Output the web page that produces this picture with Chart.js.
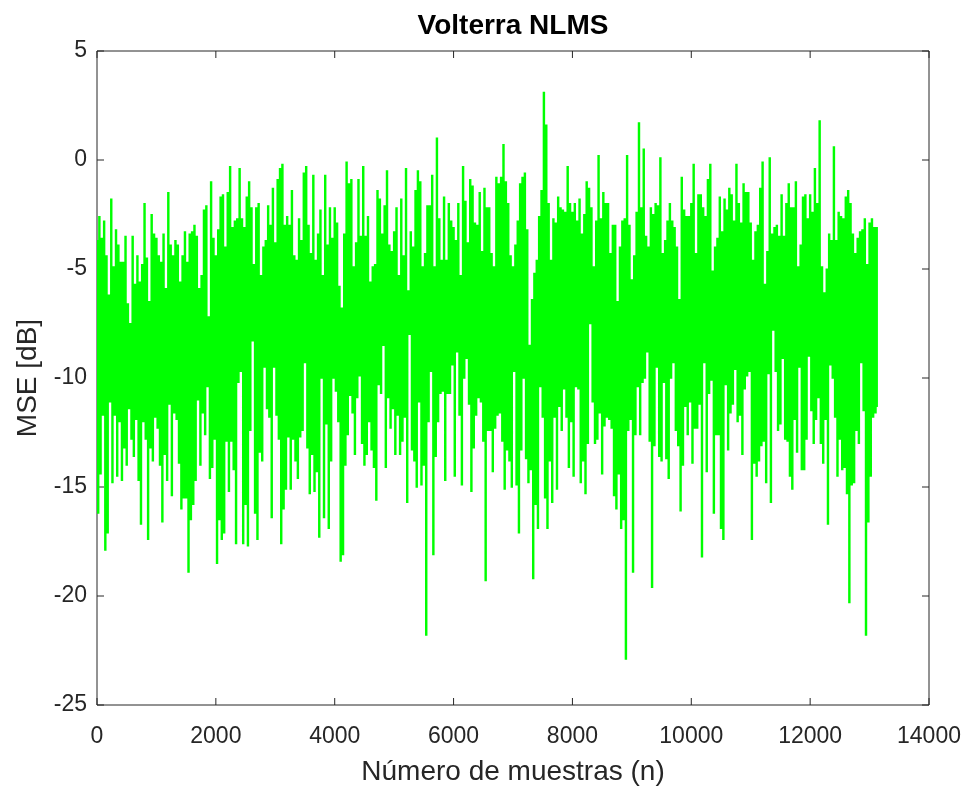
<!DOCTYPE html>
<html>
<head>
<meta charset="utf-8">
<script src="https://cdn.jsdelivr.net/npm/chart.js@4.4.1/dist/chart.umd.min.js"></script>
<style>
  html, body { margin: 0; padding: 0; background: #fff; }
  #wrap { width: 967px; height: 791px; }
</style>
</head>
<body>
<div id="wrap"><canvas id="mseChart"></canvas></div>
<script>
// samples between two consecutive readings of the curve
const step = 20;

const chartTitle = 'Volterra NLMS';
const xTicks = [0, 2000, 4000, 6000, 8000, 10000, 12000, 14000];
const yTicks = [5, 0, -5, -10, -15, -20, -25];

// upper excursions of the MSE curve (dB), read left to right
const peaksA = [-3.7, -2.6, -3.6, -2.8, -4.4, -6.2, -1.8, -4.9, -3.2, -3.9,
  -4.7, -4.7, -3.5, -6.6, -7.5, -3.5, -5.7, -4.4, -5.6, -4.8,
  -2.0, -4.5, -6.5, -2.5, -3.4, -3.6, -4.4, -4.7, -3.4, -5.9,
  -1.5, -3.9, -4.4, -3.7, -3.9, -5.6, -4.4, -3.3, -4.7, -3.4,
  -3.3, -3.0, -3.5, -5.9, -5.3, -2.3, -2.1, -7.2, -1.0, -3.6,
  -4.4, -3.2, -1.7, -1.6, -4.0, -1.5, -0.3, -3.1, -2.8, -2.7,
  -0.4, -2.7, -3.1, -1.7, -1.0, -2.2, -4.8, -2.2, -2.0, -5.3,
  -4.0, -3.7, -2.1, -3.0, -1.3, -3.8, -0.9, -0.4, -0.2, -3.0,
  -2.6];
const peaksB = [-3.0, -1.4, -4.4, -4.6, -2.7, -3.7, -0.6, -0.3, -3.0, -4.3,
  -0.7, -4.6, -3.4, -2.3, -5.3, -0.7, -3.9, -2.2, -3.6, -2.2,
  -2.9, -5.8, -6.8, -3.4, -0.1, -1.1, -0.9, -4.9, -3.8, -0.9,
  -3.5, -0.3, -3.5, -2.6, -5.6, -4.9, -4.8, -1.4, -1.8, -3.4,
  -2.1, -0.5, -3.9, -4.2, -3.3, -2.2, -5.3, -1.8, -4.4, -0.4,
  -6.0, -3.3, -4.0, -1.4, -0.5, -1.0, -4.9, -4.3, -2.1, -2.1,
  -0.7, -4.9, 1.0, -2.7, -4.6, -1.7, -4.6, -2.0, -2.8, -3.1,
  -3.7, -2.0, -5.3, -0.3, -1.9, -3.8, -0.9, -1.2, -2.9, -3.0,
  -1.5, -4.2, -1.3, -2.2];
const peaksC = [-2.2, -4.3, -4.9, -0.8, -1.1, -0.8, 0.7, -1.0, -2.0, -4.4,
  -4.9, -3.9, -2.8, -1.1, -0.8, -0.6, -3.2, -8.5, -6.4, -5.2,
  -4.6, -2.6, -1.4, 3.1, 1.6, -2.0, -4.6, -2.7, -2.9, -1.7,
  -2.2, -2.3, -2.4, -0.3, -2.0, -2.4, -2.0, -2.8, -1.8, -3.4,
  -2.5, -1.0, -1.3, -2.2, -4.9, -2.8, 0.2, -2.7, -1.5, -2.0,
  -2.0, -4.3, -3.0, -3.0, -6.5, -4.0, -2.8, -2.7, 0.2, -3.0,
  -5.5, -4.4, -2.4, 1.7, -2.2, 0.5, -3.5, -4.0, -2.2, -2.5,
  -2.0, -2.1, 0.1, -4.3, -3.7, -2.8, -2.0, -2.8, -3.1, -4.0,
  -6.4, -0.8, -2.3, -2.6];
const peaksD = [-2.6, -2.0, -0.2, -4.3, -1.6, -1.6, -2.2, -2.6, -0.9, -0.2,
  -5.1, -4.0, -3.6, -1.7, -3.3, -1.8, -2.3, -1.3, -1.6, -2.8,
  -0.2, -2.0, -2.9, -1.1, -1.5, -1.5, -2.9, -4.6, -3.3, -3.0,
  -1.3, -0.1, -5.7, -4.2, 0.1, -3.4, -3.1, -3.0, -3.5, -1.6,
  -3.5, -2.0, -1.1, -2.2, -2.2, -1.0, -4.9, -3.9, -1.7, -1.6,
  -2.7, -1.6, -2.4, -0.4, -2.0, 1.8, -4.9, -6.1, -5.0, -3.4,
  -3.7, 0.6, -3.7, -2.4, -2.6, -2.7, -1.7, -1.4, -2.0, -3.4,
  -4.3, -3.6, -3.3, -3.2, -2.7, -4.8, -2.9, -2.7, -3.1, -3.1];

// lower excursions of the MSE curve (dB), same columns
const dipsA = [-16.2, -14.4, -11.7, -17.9, -17.1, -11.1, -14.8, -11.7, -14.5, -12.0,
  -14.7, -13.2, -14.0, -11.4, -12.8, -13.6, -11.9, -14.7, -16.7, -12.0,
  -12.8, -17.4, -13.2, -13.8, -11.8, -12.3, -14.0, -16.6, -13.5, -14.7,
  -11.2, -15.4, -11.6, -11.9, -13.9, -16.0, -15.5, -15.5, -18.9, -16.5,
  -15.8, -14.7, -11.0, -14.0, -11.6, -12.6, -10.4, -14.6, -14.1, -12.8,
  -18.5, -16.5, -17.4, -17.1, -12.9, -15.2, -12.9, -14.2, -17.6, -10.2,
  -9.7, -17.6, -15.8, -17.7, -12.4, -8.3, -16.2, -17.4, -13.4, -13.8,
  -9.5, -11.4, -11.8, -16.4, -9.5, -11.7, -12.8, -17.6, -16.0, -15.1,
  -12.7];
const dipsB = [-15.1, -12.8, -13.8, -14.6, -12.7, -12.4, -9.3, -13.2, -15.3, -13.5,
  -15.2, -14.3, -17.3, -10.0, -16.4, -12.1, -16.9, -13.8, -10.0, -10.6,
  -12.0, -18.4, -18.1, -14.0, -12.6, -10.8, -11.6, -13.5, -10.9, -9.9,
  -13.0, -14.0, -13.5, -12.0, -13.3, -14.1, -15.6, -10.3, -10.7, -8.5,
  -14.1, -10.9, -12.3, -11.4, -13.5, -11.7, -13.5, -12.9, -11.8, -15.7,
  -8.0, -13.3, -13.8, -15.0, -11.1, -14.9, -14.0, -21.8, -12.0, -9.7,
  -18.1, -13.6, -12.0, -10.7, -10.6, -14.7, -10.7, -10.7, -9.4, -14.5,
  -8.8, -11.7, -14.9, -10.0, -9.1, -11.2, -15.2, -13.2, -11.7, -10.9,
  -11.1, -12.9, -19.3, -12.4];
const dipsC = [-12.4, -14.3, -12.3, -11.7, -11.6, -12.9, -15.1, -13.3, -13.8, -15.0,
  -9.7, -14.9, -17.1, -13.3, -10.0, -13.7, -14.8, -14.2, -19.2, -15.8,
  -16.9, -10.4, -11.8, -15.5, -16.9, -13.8, -15.7, -11.8, -15.1, -11.3,
  -12.4, -10.5, -11.8, -14.1, -12.0, -14.5, -10.4, -10.5, -14.8, -13.8,
  -15.3, -13.0, -7.5, -11.1, -13.0, -12.8, -11.6, -14.4, -12.2, -11.8,
  -11.9, -12.3, -15.4, -16.0, -14.4, -16.9, -16.5, -22.9, -12.4, -11.9,
  -18.9, -12.6, -10.4, -12.6, -10.2, -10.0, -8.8, -12.9, -19.6, -13.1,
  -9.5, -13.6, -13.8, -10.2, -13.7, -14.6, -10.0, -9.3, -12.4, -13.1,
  -16.1, -14.0, -11.3, -12.6];
const dipsD = [-11.1, -13.9, -12.3, -12.3, -11.2, -18.2, -9.3, -14.3, -10.7, -10.1,
  -16.2, -12.6, -12.6, -16.9, -17.4, -10.3, -13.3, -11.6, -11.2, -9.6,
  -12.0, -11.7, -13.5, -10.5, -9.9, -9.7, -17.4, -13.9, -14.5, -13.8,
  -13.1, -12.9, -14.8, -9.8, -15.7, -7.8, -9.7, -12.4, -12.1, -9.1,
  -12.8, -12.9, -14.5, -15.1, -11.9, -13.4, -9.5, -14.2, -14.2, -12.8,
  -9.0, -11.5, -13.0, -11.9, -10.9, -13.0, -13.9, -11.9, -16.7, -9.4,
  -10.0, -11.8, -14.5, -12.8, -14.2, -14.1, -15.3, -20.3, -14.9, -14.8,
  -12.4, -13.0, -9.3, -11.5, -21.8, -16.6, -14.5, -11.8, -11.6, -11.3];

const peaks = peaksA.concat(peaksB, peaksC, peaksD);
const dips = dipsA.concat(dipsB, dipsC, dipsD);

// the curve swings between an upper and a lower reading in every column
const signal = [];
peaks.forEach((p, i) => {
  signal.push({ x: 2 * i * step, y: p });
  signal.push({ x: (2 * i + 1) * step, y: dips[i] });
});

const axisColor = '#262626';
const fontFamily = '"Liberation Sans", Arial, Helvetica, sans-serif';

// MATLAB style box with inward ticks (under the data) and a title centred on the axes
const axesBox = {
  id: 'axesBox',
  beforeDatasetsDraw(chart) {
    const { ctx, chartArea: a, scales } = chart;
    const len = 7;
    ctx.save();
    ctx.strokeStyle = axisColor;
    ctx.lineWidth = 1;
    ctx.beginPath();
    ctx.rect(a.left, a.top, a.right - a.left, a.bottom - a.top);
    xTicks.forEach(v => {
      const px = scales.x.getPixelForValue(v);
      ctx.moveTo(px, a.bottom); ctx.lineTo(px, a.bottom - len);
      ctx.moveTo(px, a.top); ctx.lineTo(px, a.top + len);
    });
    yTicks.forEach(v => {
      const py = scales.y.getPixelForValue(v);
      ctx.moveTo(a.left, py); ctx.lineTo(a.left + len, py);
      ctx.moveTo(a.right, py); ctx.lineTo(a.right - len, py);
    });
    ctx.stroke();
    ctx.restore();
  },
  afterDraw(chart) {
    const { ctx, chartArea: a } = chart;
    ctx.save();
    ctx.fillStyle = '#000';
    ctx.font = 'bold 28px ' + fontFamily;
    ctx.textAlign = 'center';
    ctx.textBaseline = 'middle';
    ctx.fillText(chartTitle, (a.left + a.right) / 2, 26);
    ctx.restore();
  }
};

const ctx = document.getElementById('mseChart').getContext('2d');
new Chart(ctx, {
  type: 'line',
  data: {
    datasets: [{
      label: 'MSE',
      data: signal,
      borderColor: '#00ff00',
      borderWidth: 1.25,
      stepped: 'middle',
      pointRadius: 0,
      fill: false
    }]
  },
  options: {
    animation: false,
    responsive: true,
    maintainAspectRatio: false,
    parsing: false,
    layout: { padding: { left: 0, right: 38, top: 51, bottom: 0 } },
    plugins: {
      legend: { display: false },
      tooltip: { enabled: false },
      title: { display: false }
    },
    scales: {
      x: {
        type: 'linear',
        min: 0,
        max: 14000,
        afterBuildTicks: s => { s.ticks = xTicks.map(v => ({ value: v })); },
        afterFit: s => { s.height = 86; s.paddingRight = 0; },
        grid: { display: false },
        border: { display: false },
        ticks: {
          color: axisColor,
          padding: 10,
          maxRotation: 0,
          font: { family: fontFamily, size: 23 },
          callback: v => String(v)
        },
        title: {
          display: true,
          text: 'Número de muestras (n)',
          color: axisColor,
          font: { family: fontFamily, size: 28 },
          padding: { top: 2, bottom: 2 }
        }
      },
      y: {
        type: 'linear',
        min: -25,
        max: 5,
        afterBuildTicks: s => { s.ticks = yTicks.map(v => ({ value: v })); },
        afterFit: s => { s.width = 97; },
        grid: { display: false },
        border: { display: false },
        ticks: {
          color: axisColor,
          padding: 2,
          font: { family: fontFamily, size: 23 },
          callback: v => String(v)
        },
        title: {
          display: true,
          text: 'MSE [dB]',
          color: axisColor,
          font: { family: fontFamily, size: 28 },
          padding: { top: 11, bottom: 11 }
        }
      }
    }
  },
  plugins: [axesBox]
});
</script>
</body>
</html>
